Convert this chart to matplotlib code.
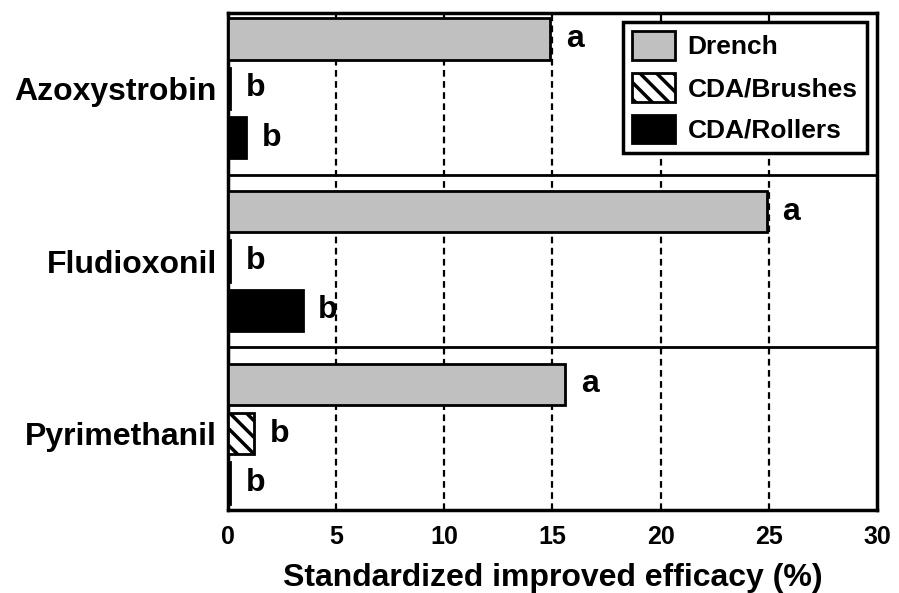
import numpy as np
import matplotlib
matplotlib.use('Agg')
import matplotlib.pyplot as plt

# values
categories = ['Azoxystrobin', 'Fludioxonil', 'Pyrimethanil']
series = ['Drench', 'CDA/Brushes', 'CDA/Rollers']
drench = [14.9, 24.9, 15.6]
brushes = [0.1, 0.1, 1.2]
rollers = [0.85, 3.45, 0.1]
letters_drench = ['a', 'a', 'a']
letters_brushes = ['b', 'b', 'b']
letters_rollers = ['b', 'b', 'b']
xticks = [0, 5, 10, 15, 20, 25, 30]

plt.rcParams['font.family'] = ['Liberation Sans', 'DejaVu Sans']
plt.rcParams['font.weight'] = 'bold'
plt.rcParams['hatch.linewidth'] = 2.5

fig = plt.figure(figsize=(8.99, 5.93), dpi=100)
ax = fig.add_axes([0.2536, 0.14, 0.7219, 0.838])

centers = np.arange(len(categories)) * 3.5
h = 0.84
styles = [dict(color='#c0c0c0'),
          dict(color='white', hatch='\\\\'),
          dict(color='black')]
values = [drench, brushes, rollers]
letters = [letters_drench, letters_brushes, letters_rollers]

for i, (name, vals, labs, st) in enumerate(zip(series, values, letters, styles)):
    ypos = centers - 1 + i
    ax.barh(ypos, vals, height=h, edgecolor='black', linewidth=2,
            label=name, zorder=3, **st)
    for y, v, t in zip(ypos, vals, labs):
        ax.text(v + 0.72, y, t, fontsize=23, fontweight='bold',
                va='center', ha='left', zorder=4)

# group separators
for c in centers[:-1]:
    ax.axhline(c + 1.75, color='black', linewidth=2, zorder=2)

for x in xticks[1:-1]:
    ax.axvline(x, color='black', linewidth=1.6, linestyle=(0, (3, 2)), zorder=1)

ax.set_xlim(0, 30)
ax.set_ylim(8.55, -1.53)
ax.set_xticks(xticks)
ax.set_yticks(centers)
ax.set_yticklabels(categories, fontsize=23, fontweight='bold')
ax.tick_params(axis='x', length=0, pad=11, labelsize=18)
ax.tick_params(axis='y', length=0, pad=8)
for lab in ax.get_xticklabels():
    lab.set_fontweight('bold')
for sp in ax.spines.values():
    sp.set_linewidth(2.5)

ax.set_xlabel('Standardized improved efficacy (%)', fontsize=23,
              fontweight='bold', labelpad=10)

leg = ax.legend(loc='upper right', bbox_to_anchor=(0.9846, 0.982),
                borderaxespad=0, fancybox=False, framealpha=1,
                edgecolor='black', handlelength=1.6,
                handleheight=1.29, labelspacing=0.5, handletextpad=0.5,
                borderpad=0.35, prop={'weight': 'bold', 'size': 19})
leg.get_frame().set_linewidth(2.5)

fig.savefig('out.png', dpi=100)
